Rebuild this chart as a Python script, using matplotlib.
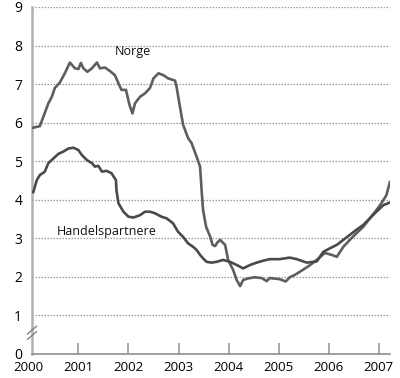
import matplotlib
matplotlib.use("Agg")
import matplotlib.pyplot as plt
from matplotlib.lines import Line2D

plt.rcParams['font.family'] = ['Open Sans', 'DejaVu Sans']

# Norge: decimal year, value
norge_t = [2000.10, 2000.23, 2000.30, 2000.40, 2000.47, 2000.53, 2000.63, 2000.73,
           2000.83, 2000.93, 2001.00, 2001.05, 2001.10, 2001.18, 2001.27, 2001.37,
           2001.43, 2001.53, 2001.63, 2001.73, 2001.80, 2001.86, 2001.95, 2002.02,
           2002.08, 2002.13, 2002.23, 2002.33, 2002.43, 2002.50, 2002.60, 2002.70,
           2002.79, 2002.93, 2002.96, 2003.03, 2003.09, 2003.19, 2003.26, 2003.36,
           2003.43, 2003.46, 2003.49, 2003.55, 2003.63, 2003.68, 2003.73, 2003.78,
           2003.83, 2003.93, 2003.99, 2004.09, 2004.16, 2004.23, 2004.29, 2004.39,
           2004.52, 2004.66, 2004.76, 2004.82, 2005.02, 2005.14, 2005.22, 2005.32,
           2005.42, 2005.62, 2005.76, 2005.92, 2006.06, 2006.16, 2006.29, 2006.42,
           2006.55, 2006.69, 2006.82, 2006.95, 2007.05, 2007.15, 2007.22]
norge_v = [5.87, 5.91, 6.15, 6.50, 6.67, 6.90, 7.04, 7.28,
           7.56, 7.41, 7.39, 7.55, 7.41, 7.32, 7.41, 7.56,
           7.41, 7.43, 7.34, 7.23, 7.02, 6.85, 6.85, 6.46,
           6.24, 6.50, 6.67, 6.76, 6.90, 7.15, 7.28, 7.23,
           7.15, 7.09, 6.93, 6.40, 5.95, 5.60, 5.47, 5.12,
           4.86, 4.25, 3.73, 3.30, 3.05, 2.83, 2.80, 2.90,
           2.96, 2.83, 2.44, 2.18, 1.92, 1.76, 1.92, 1.96,
           1.99, 1.97, 1.89, 1.97, 1.94, 1.88, 1.99, 2.05,
           2.13, 2.30, 2.44, 2.62, 2.57, 2.52, 2.78, 2.96,
           3.13, 3.30, 3.52, 3.73, 3.91, 4.12, 4.46]

# Handelspartnere: decimal year, value
handel_t = [2000.10, 2000.17, 2000.23, 2000.33, 2000.40, 2000.50, 2000.60, 2000.70,
            2000.80, 2000.90, 2001.00, 2001.07, 2001.17, 2001.27, 2001.33, 2001.40,
            2001.47, 2001.56, 2001.66, 2001.75, 2001.76, 2001.80, 2001.90, 2002.00,
            2002.10, 2002.23, 2002.33, 2002.43, 2002.53, 2002.66, 2002.76, 2002.89,
            2002.99, 2003.09, 2003.19, 2003.29, 2003.36, 2003.43, 2003.49, 2003.56,
            2003.66, 2003.76, 2003.89, 2004.03, 2004.16, 2004.29, 2004.43, 2004.56,
            2004.69, 2004.82, 2005.02, 2005.22, 2005.36, 2005.56, 2005.76, 2005.89,
            2006.02, 2006.16, 2006.29, 2006.42, 2006.55, 2006.69, 2006.82, 2006.95,
            2007.09, 2007.22]
handel_v = [4.20, 4.51, 4.64, 4.73, 4.95, 5.07, 5.19, 5.25,
            5.33, 5.35, 5.29, 5.16, 5.03, 4.95, 4.86, 4.88,
            4.73, 4.75, 4.69, 4.51, 4.25, 3.91, 3.69, 3.56,
            3.54, 3.60, 3.69, 3.69, 3.65, 3.56, 3.52, 3.39,
            3.17, 3.04, 2.87, 2.78, 2.70, 2.57, 2.48, 2.39,
            2.37, 2.39, 2.44, 2.39, 2.31, 2.22, 2.31, 2.37,
            2.42, 2.46, 2.46, 2.50, 2.46, 2.37, 2.40, 2.65,
            2.74, 2.83, 2.96, 3.09, 3.22, 3.35, 3.52, 3.69,
            3.86, 3.93]

years = [2001, 2002, 2003, 2004, 2005, 2006, 2007]
yticks = [0, 1, 2, 3, 4, 5, 6, 7, 8, 9]

fig = plt.figure(figsize=(4.0, 3.78), dpi=100)
ax = fig.add_axes([0.08, 0.0635, 0.896, 0.918])

for y in yticks[1:]:
    ax.axhline(y, color='#9a9a9a', lw=0.9, ls=(0, (1.2, 1.2)), zorder=1)

ax.plot(norge_t, norge_v, color='#5e5e5e', lw=1.9, zorder=3)
ax.plot(handel_t, handel_v, color='#4a4a4a', lw=1.9, zorder=3)

ax.text(2002.08, 7.85, "Norge", fontsize=9, ha='center', va='center', color='#111111')
ax.text(2001.56, 3.17, "Handelspartnere", fontsize=9, ha='center', va='center',
        color='#111111')

ax.set_xlim(2000.074, 2007.23)
ax.set_ylim(0, 9)
ax.set_xticks(years)
ax.set_xticklabels([str(y) for y in years])
ax.set_yticks(yticks)
ax.text(2000, -0.35, "2000", transform=ax.transData, ha='center', va='center',
        fontsize=9.5, clip_on=False)

for s in ['top', 'right']:
    ax.spines[s].set_visible(False)
ax.spines['left'].set_color('#b0b0b0')
ax.spines['left'].set_linewidth(1.8)
ax.spines['bottom'].set_color('#909090')
ax.spines['bottom'].set_linewidth(1.2)

ax.tick_params(axis='x', direction='in', length=8, width=1.1, color='#909090',
               labelsize=9.5, pad=5)
ax.tick_params(axis='y', length=0, labelsize=10, pad=7)

# axis break marks
for dy in (-0.07, 0.07):
    ax.add_line(Line2D([2000.074 - 0.09, 2000.074 + 0.09],
                       [0.55 + dy - 0.1, 0.55 + dy + 0.1],
                       transform=ax.transData, color='#777777', lw=0.9,
                       clip_on=False, zorder=5))

fig.savefig("out.png", dpi=100)
